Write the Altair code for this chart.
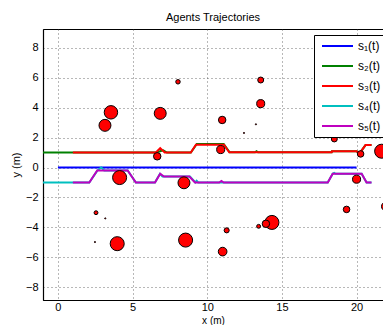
import altair as alt
import pandas as pd

# ---- data ----
agents = ["s₁(t)", "s₂(t)", "s₃(t)", "s₄(t)", "s₅(t)"]
colors = ["#0000FF", "#008000", "#FF0000", "#00BFBF", "#BF00BF"]

s1_x = [0, 20]
s1_y = [0, 0]

s2_x = [-1, 1, 6.56, 7.05, 7.3, 8.9, 9.3, 11.1, 11.5, 13.2, 13.3, 13.4, 18.33, 18.35, 20.0, 20.2, 20.6, 21.0]
s2_y = [1, 1, 1, 1.15, 1.0, 1.0, 1.58, 1.57, 1.02, 1.02, 1.09, 1.02, 1.02, 1.08, 1.08, 0.95, 1.5, 1.5]

s3_x = [1, 6.56, 6.85, 7.15, 8.9, 9.24, 11.12, 11.47, 18.33, 18.35, 20.0, 20.2, 20.6, 21.0]
s3_y = [1, 1, 1.3, 1.0, 1.0, 1.52, 1.52, 1.02, 1.02, 1.08, 1.08, 0.95, 1.5, 1.5]

s4_x = [-1, 2.1, 2.65, 2.9, 3.1, 4.67, 5.22, 6.5, 6.83, 7.0, 8.84, 9.2, 9.29, 9.4, 18.07, 18.4, 18.5, 18.6, 20.34, 20.67, 21.0]
s4_y = [-1, -1, -0.2, 0.0, -0.2, -0.2, -1, -1, -0.42, -0.6, -0.6, -1, -0.89, -1, -1, -0.42, -0.36, -0.42, -0.42, -1, -1]

s5_x = [1, 2.1, 2.63, 4.67, 5.22, 6.5, 6.85, 7.1, 8.8, 9.18, 10.8, 10.95, 11.1, 18.07, 18.4, 20.34, 20.67, 21.0]
s5_y = [-1, -1, -0.2, -0.2, -1, -1, -0.42, -0.6, -0.6, -1, -1, -0.9, -1, -1, -0.42, -0.42, -1, -1]

obs_x = [3.55, 3.15, 6.85, 8.04, 6.65, 13.58, 13.58, 11.0, 13.26, 12.46, 18.51, 10.9, 21.68, 20.27,
         4.13, 8.44, 2.55, 3.17, 2.48, 3.97, 8.55, 20.0, 19.33, 21.97, 14.33, 13.93, 13.44, 11.3, 11.03]
obs_y = [3.69, 2.82, 3.62, 5.73, 0.75, 5.85, 4.27, 3.18, 2.89, 2.31, 1.91, 1.2, 1.09, 0.91,
         -0.67, -1.02, -3.02, -3.4, -4.98, -5.09, -4.85, -0.78, -2.8, -2.6, -3.67, -3.76, -3.93, -4.2, -5.62]
obs_r = [0.45, 0.4, 0.4, 0.15, 0.25, 0.2, 0.27, 0.25, 0.04, 0.04, 0.2, 0.27, 0.47, 0.22,
         0.47, 0.4, 0.13, 0.04, 0.04, 0.47, 0.47, 0.27, 0.22, 0.3, 0.47, 0.25, 0.13, 0.17, 0.29]

x_ticks = [0, 5, 10, 15, 20]
y_ticks = [-8, -6, -4, -2, 0, 2, 4, 6, 8]

# ---- tables ----
rows = []
for name, xs, ys in zip(agents, [s1_x, s2_x, s3_x, s4_x, s5_x], [s1_y, s2_y, s3_y, s4_y, s5_y]):
    for i, (xv, yv) in enumerate(zip(xs, ys)):
        rows.append({"agent": name, "x": xv, "y": yv, "i": i})
traj = pd.DataFrame(rows)
obs = pd.DataFrame({"x": obs_x, "y": obs_y, "r": obs_r})

FONT = "Liberation Sans"
xscale = alt.Scale(domain=[-1, 21.77], nice=False, zero=False)
yscale = alt.Scale(domain=[-8.855, 9.26], nice=False, zero=False)

xaxis = alt.Axis(values=x_ticks, title="x (m)", grid=True, ticks=False, domain=True,
                 domainColor="black", domainWidth=1.2, labelPadding=1, labelFontSize=11,
                 titleY=25, titleBaseline="bottom", titleFontSize=10,
                 gridDash=[1, 3], gridColor="#333", gridOpacity=0.7,
                 labelFlush=False, labelOverlap=False)
yaxis = alt.Axis(values=y_ticks, title="y (m)", grid=True, ticks=False, domain=True,
                 domainColor="black", domainWidth=1.2, labelPadding=5, titlePadding=4,
                 labelFontSize=11, titleFontSize=11,
                 gridDash=[1, 3], gridColor="#333", gridOpacity=0.7,
                 labelFlush=False, labelOverlap=False)

lines = alt.Chart(traj).mark_line(strokeWidth=2, interpolate="linear").encode(
    x=alt.X("x:Q", scale=xscale, axis=xaxis),
    y=alt.Y("y:Q", scale=yscale, axis=yaxis),
    color=alt.Color("agent:N", sort=agents,
                    scale=alt.Scale(domain=agents, range=colors),
                    legend=alt.Legend(title=None, orient="none", legendX=271, legendY=6,
                                      symbolType="stroke", symbolSize=961, symbolStrokeWidth=2,
                                      symbolOffset=4, clipHeight=16, rowPadding=4,
                                      labelFontSize=12, labelFont=FONT, labelColor="black",
                                      strokeColor="black", fillColor="white", padding=3,
                                      labelOffset=4)),
    detail="agent:N",
    order="i:Q",
)

circles = alt.Chart(obs).mark_circle(opacity=1, stroke="black", strokeWidth=1, color="#FF0000").encode(
    x=alt.X("x:Q", scale=xscale, axis=xaxis),
    y=alt.Y("y:Q", scale=yscale, axis=yaxis),
    size=alt.Size("r:Q", scale=alt.Scale(type="pow", exponent=2, domain=[0, 1], range=[0, 892]),
                  legend=None),
)

chart = alt.layer(lines, circles).properties(
    width=340, height=271,
    background="white",
    title=alt.TitleParams("Agents Trajectories", font=FONT, fontSize=11, fontWeight="normal",
                          color="black", offset=6),
    autosize="none",
    padding={"left": 35, "top": 21, "right": 0, "bottom": 25},
).configure_view(stroke="black", strokeWidth=1).configure_axis(
    labelFont=FONT, labelColor="black",
    titleFont=FONT, titleFontWeight="normal", titleColor="black",
)

chart.save("out.html", embed_options={"renderer": "svg", "actions": False})
